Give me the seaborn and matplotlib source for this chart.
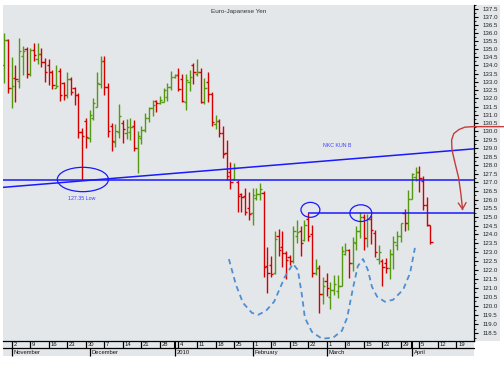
import numpy as np
import pandas as pd
import matplotlib
matplotlib.use("Agg")
import matplotlib.pyplot as plt
import matplotlib.transforms as mtransforms
from matplotlib.patches import Ellipse, Rectangle
from matplotlib.ticker import FixedLocator, FormatStrFormatter, NullFormatter
import seaborn as sns

# ---------------- data ----------------
TITLE = "Euro-Japanese Yen"
start_date = "2009-10-29"
axis_end_date = "2010-04-23"

opens = [134.0, 135.58, 132.6, 133.25, 133.05, 134.6, 135.0, 133.46, 134.96, 134.4,
         134.69, 134.2, 134.0, 133.58, 132.6, 133.66, 132.91, 132.2, 133.17, 132.6,
         132.2, 129.99, 130.6, 129.64, 130.79, 131.49, 132.85, 134.3, 132.7, 130.3,
         129.4, 129.95, 130.5, 129.89, 129.95, 130.3, 129.0, 129.6, 130.1, 130.83,
         131.39, 131.85, 131.7, 131.8, 132.1, 132.7, 133.3, 133.42, 133.2, 131.8,
         133.0, 134.0, 133.46, 133.62, 131.8, 133.0, 132.26, 130.45, 130.63, 129.9,
         128.71, 127.6, 127.2, 127.0, 126.3, 126.2, 125.5, 125.2, 126.1, 126.3,
         126.4, 122.22, 122.3, 121.8, 123.9, 123.3, 122.94, 122.75, 122.5, 123.9,
         124.17, 123.7, 124.9, 124.0, 121.8, 122.1, 120.67, 121.4, 120.5, 120.9,
         120.8, 121.1, 122.9, 123.1, 122.37, 123.5, 124.2, 125.0, 123.79, 124.9,
         124.1, 122.6, 122.5, 122.4, 122.09, 122.9, 123.4, 123.9, 125.2, 124.64,
         126.02, 127.3, 127.6, 127.1, 125.7, 124.55]
highs = [135.99, 135.64, 134.53, 134.03, 135.69, 135.21, 135.16, 135.06, 135.38, 135.38,
         135.06, 134.45, 134.40, 133.72, 134.03, 133.83, 133.01, 133.62, 133.31, 132.70,
         132.30, 130.19, 130.79, 131.29, 132.00, 133.62, 134.59, 134.59, 132.91, 130.49,
         130.42, 131.64, 130.69, 130.75, 130.79, 130.69, 130.03, 130.33, 131.09, 131.49,
         131.90, 131.90, 132.14, 132.64, 132.91, 133.66, 133.46, 133.84, 133.48, 133.48,
         133.72, 134.18, 134.40, 133.84, 133.25, 133.58, 132.40, 130.99, 130.75, 130.33,
         129.50, 128.21, 128.14, 127.14, 126.37, 126.66, 126.46, 126.69, 126.66, 126.98,
         126.50, 123.31, 122.78, 124.22, 124.30, 124.17, 123.09, 122.84, 124.49, 124.83,
         124.49, 124.83, 125.22, 124.55, 122.61, 122.28, 121.59, 121.81, 121.35, 121.72,
         121.72, 123.35, 123.50, 123.17, 123.85, 124.49, 125.26, 125.18, 125.18, 125.11,
         124.26, 123.41, 122.60, 122.65, 123.17, 123.92, 124.22, 124.68, 125.45, 126.56,
         127.53, 127.92, 127.96, 127.38, 126.14, 124.55]
lows = [132.91, 132.34, 131.39, 131.80, 132.60, 133.42, 133.25, 133.37, 134.28, 134.07,
        133.93, 132.97, 132.81, 132.54, 132.60, 131.86, 131.88, 132.00, 132.20, 131.60,
        129.60, 127.13, 129.04, 129.40, 130.69, 131.49, 132.60, 132.20, 129.70, 128.85,
        129.10, 129.60, 129.30, 129.58, 129.50, 128.87, 127.57, 129.28, 129.99, 130.59,
        130.93, 131.19, 131.64, 131.76, 131.86, 132.50, 133.25, 132.44, 131.80, 131.29,
        132.44, 132.85, 133.35, 131.70, 131.64, 131.80, 130.33, 130.13, 129.69, 128.45,
        127.14, 126.63, 127.14, 125.31, 125.31, 125.12, 124.83, 124.55, 125.98, 125.98,
        121.62, 120.74, 121.62, 121.77, 122.78, 122.15, 121.48, 122.28, 122.37, 123.50,
        122.80, 123.65, 123.65, 121.62, 121.72, 119.63, 120.12, 120.52, 119.82, 120.61,
        120.43, 121.08, 122.84, 121.53, 121.96, 123.13, 123.79, 123.13, 123.28, 123.47,
        122.75, 122.34, 121.08, 121.81, 121.48, 122.04, 123.13, 123.60, 124.17, 124.26,
        126.02, 127.10, 126.46, 125.41, 124.49, 123.47]
closes = [135.58, 132.60, 132.74, 133.17, 134.9, 134.90, 133.46, 134.96, 134.65, 134.69,
          134.20, 133.58, 133.58, 132.81, 132.76, 132.2, 132.2, 133.17, 132.40, 132.20,
          129.99, 129.74, 129.70, 131.0, 131.7, 132.9, 134.3, 132.70, 130.03, 129.44,
          130.0, 130.9, 130.13, 130.29, 130.25, 129.01, 129.75, 130.1, 130.83, 131.39,
          131.6, 131.70, 131.9, 132.5, 132.7, 133.31, 133.42, 132.55, 131.85, 133.11,
          133.3, 133.58, 133.62, 131.80, 132.60, 132.26, 130.59, 130.63, 129.9, 128.65,
          127.38, 127.0, 127.83, 126.21, 126.15, 125.3, 125.18, 126.27, 126.31, 126.6,
          122.15, 121.8, 121.77, 123.73, 123.1, 122.94, 122.56, 122.5, 124.17, 124.15,
          123.5, 124.55, 123.92, 121.81, 122.09, 120.67, 121.08, 121.0, 120.89, 121.2,
          121.08, 123.09, 123.13, 122.37, 123.58, 124.2, 125.0, 123.79, 124.9, 124.26,
          123.03, 123.03, 122.19, 122.09, 122.90, 123.6, 123.9, 124.64, 124.64, 126.02,
          127.49, 127.6, 127.24, 125.70, 124.55, 123.6]

y_tick_values = [118.5 + 0.5 * k for k in range(39)]
y_minor_values = [118.25 + 0.5 * k for k in range(40)]

# annotations (bar index, price)
low_bar = 21            # 27 Nov 2009 low
neck_bar = 82           # 22 Feb 2010 high
low_label = "127.35 Low"
low_label_pos = (21.0, 126.04)
trend_label = "NKC KUN B"
trend_label_pos = (89.9, 129.16)
trend_x = [-0.35, 126.74]
trend_y = [126.71, 128.97]
ellipse_x = [21.2, 82.6, 96.2]
ellipse_y = [127.17, 125.41, 125.22]
ellipse_w = [13.8, 5.1, 5.9]
ellipse_h = [1.42, 0.86, 0.96]
pattern_x = [60.6, 62.5, 64.4, 66.8, 68.5, 70.6, 72.8, 75.7, 77.9, 79.2, 80.3, 81.1, 83.0, 85.7,
             88.7, 91.1, 92.5, 94.1, 95.4, 96.8, 98.1, 99.2, 100.6, 102.7, 104.9, 107.6, 109.5, 110.8]
pattern_y = [122.61, 121.17, 120.17, 119.62, 119.51, 119.73, 120.23, 121.61, 122.34, 122.00, 120.61,
             119.35, 118.58, 118.21, 118.26, 118.64, 119.35, 121.00, 122.22, 122.61, 122.00, 121.06,
             120.51, 120.23, 120.34, 120.89, 121.83, 123.24]
arrow_x = [134.8, 126.5, 124.3, 122.7, 121.3, 120.7, 120.8, 121.6, 122.6, 123.2, 123.6]
arrow_y = [130.29, 130.29, 130.26, 130.12, 129.88, 129.50, 128.91, 128.15, 127.26, 126.33, 125.55]

# ---------------- style ----------------
BG = "#e4e7ea"
GREEN = "#55990f"
RED = "#d40000"
BLUE = "#1a1aff"
DASH = "#4f8fd0"
ARROW = "#c43c3c"

sns.set_style("white", {"axes.facecolor": BG})
plt.rcParams["font.family"] = ["Liberation Sans", "DejaVu Sans"]

W, H = 504, 372
fig = plt.figure(figsize=(W / 100, H / 100), dpi=100)
fig.patch.set_facecolor("white")
fig.patches.append(Rectangle((3 / W, (H - 341) / H), 497 / W, 336 / H,
                             transform=fig.transFigure, facecolor=BG, edgecolor="none", zorder=-5))
fig.patches.append(Rectangle((3 / W, (H - 356) / H), 471 / W, 16 / H,
                             transform=fig.transFigure, facecolor=BG, edgecolor="none", zorder=-5))

ax_h = 335.7
ax = fig.add_axes([3 / W, (H - 340.7) / H, 471 / W, ax_h / H])
ax.set_facecolor(BG)

n = len(opens)
xi = np.arange(n)
df = pd.DataFrame({"x": xi, "open": opens, "high": highs, "low": lows, "close": closes},
                  index=pd.bdate_range(start_date, periods=n))
cols = np.where(df["close"] >= df["open"], GREEN, RED)

ax.set_yscale("log")
xmin, xmax = -0.35, 126.74
ax.set_xlim(xmin, xmax)
ax.set_ylim(118.1, 137.77)

# OHLC bars
ax.vlines(df["x"], df["low"], df["high"], colors=cols, lw=1.0, zorder=3)
ax.hlines(df["open"], df["x"] - 0.6, df["x"], colors=cols, lw=1.0, zorder=3)
ax.hlines(df["close"], df["x"], df["x"] + 0.6, colors=cols, lw=1.0, zorder=3)

# support & trend lines
ax.axhline(lows[low_bar], color=BLUE, lw=1.1, zorder=4)
sns.lineplot(x=trend_x, y=trend_y, ax=ax, color=BLUE, lw=1.1, zorder=4)
ax.hlines(highs[neck_bar], neck_bar, xmax, colors=BLUE, lw=1.1, zorder=4)

for cx, cy, w, h in zip(ellipse_x, ellipse_y, ellipse_w, ellipse_h):
    ax.add_patch(Ellipse((cx, cy), w, h, fill=False, edgecolor=BLUE, lw=0.9, zorder=5))

# dashed pattern
ax.plot(pattern_x, pattern_y, color=DASH, lw=1.3, ls=(0, (3.0, 2.2)), zorder=4)

# red arrow
ax.plot(arrow_x, arrow_y, color=ARROW, lw=1.0, clip_on=False, zorder=6)
ax.annotate("", xy=(arrow_x[-1] + 0.1, highs[neck_bar]), xytext=(arrow_x[-1], arrow_y[-1] + 0.05),
            arrowprops=dict(arrowstyle="->,head_length=0.45,head_width=0.28", color=ARROW, lw=1.0),
            zorder=6, annotation_clip=False)

# texts
ax.text(0.5, 1 - 6 / ax_h, TITLE, transform=ax.transAxes, ha="center", va="center",
        fontsize=4.6, color="#333333")
ax.text(*low_label_pos, low_label, ha="center", va="center", fontsize=3.8, color="#4040ff")
ax.text(*trend_label_pos, trend_label, ha="center", va="center", fontsize=3.8, color="#4040ff")

# y axis on right
ax.yaxis.tick_right()
ax.yaxis.set_major_locator(FixedLocator(y_tick_values))
ax.yaxis.set_major_formatter(FormatStrFormatter("%.1f"))
ax.yaxis.set_minor_locator(FixedLocator(y_minor_values))
ax.yaxis.set_minor_formatter(NullFormatter())
ax.tick_params(axis="y", which="major", direction="out", length=3, width=0.8,
               labelsize=4.4, pad=3, colors="black", labelcolor="#222222", right=True, left=False)
ax.tick_params(axis="y", which="minor", direction="out", length=1.6, width=0.6,
               colors="black", right=True, left=False)
ax.set_xticks([])
for s in ["left", "top"]:
    ax.spines[s].set_visible(False)
ax.spines["right"].set_color("black")
ax.spines["right"].set_linewidth(0.9)
ax.spines["bottom"].set_color("black")
ax.spines["bottom"].set_linewidth(0.9)

# two-row date axis
axis_dates = pd.bdate_range(start_date, axis_end_date)
trans = mtransforms.blended_transform_factory(ax.transData, ax.transAxes)
r1 = 7.6 / ax_h
r2 = 15.3 / ax_h
mondays = [i for i, d in enumerate(axis_dates) if d.dayofweek == 0 and xmin <= i <= xmax]
month_starts = [i for i in range(1, len(axis_dates))
                if axis_dates[i].month != axis_dates[i - 1].month and i <= xmax]
quarter_starts = [i for i in month_starts if axis_dates[i].month in (1, 4, 7, 10)]

ax.vlines(mondays, -r1, 0, transform=trans, colors="black", lw=0.9, clip_on=False)
ax.vlines(month_starts, -r2, -r1, transform=trans, colors="black", lw=0.9, clip_on=False)
ax.vlines(quarter_starts, -r1, 0, transform=trans, colors="black", lw=1.5, clip_on=False)
ax.plot([0, 1], [-r1, -r1], transform=ax.transAxes, color="black", lw=0.9, clip_on=False)

for i in mondays:
    ax.text(i + 0.45, -r1 / 2, str(axis_dates[i].day), transform=trans, ha="left", va="center",
            fontsize=4.2, color="#111111", clip_on=False)
for i in month_starts:
    d = axis_dates[i]
    name = str(d.year) if d.month == 1 else d.strftime("%B")
    ax.text(i + 0.45, -(r1 + r2) / 2, name, transform=trans, ha="left", va="center",
            fontsize=4.2, color="#111111", clip_on=False)

fig.savefig("out.png", dpi=100)
